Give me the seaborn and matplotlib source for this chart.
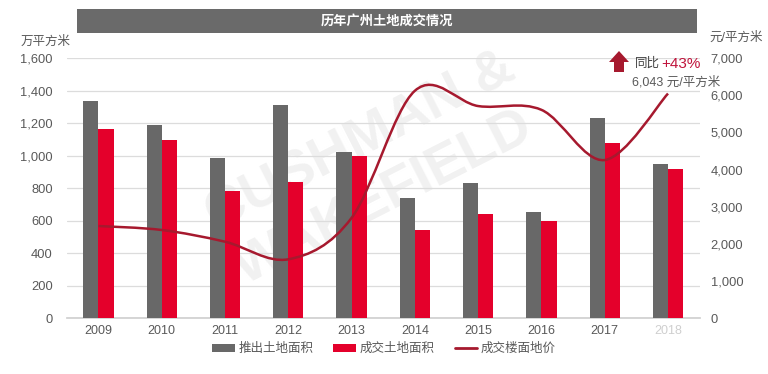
import numpy as np
import pandas as pd
import matplotlib
matplotlib.use('Agg')
import matplotlib.pyplot as plt
import seaborn as sns
from matplotlib.path import Path
from matplotlib.patches import PathPatch, Rectangle, Polygon, Patch
from matplotlib.lines import Line2D
from matplotlib.ticker import FuncFormatter, MultipleLocator

# ---- data ----
years = ['2009', '2010', '2011', '2012', '2013', '2014', '2015', '2016', '2017', '2018']
launched = [1336, 1187, 988, 1309, 1019, 740, 832, 654, 1229, 948]   # 推出土地面积 (万平方米)
sold = [1162, 1095, 783, 838, 999, 544, 640, 599, 1078, 915]         # 成交土地面积 (万平方米)
price = [2481, 2374, 2059, 1586, 2700, 6118, 5707, 5605, 4255, 6043] # 成交楼面地价 (元/平方米)
series_names = ['推出土地面积', '成交土地面积']
line_name = '成交楼面地价'
title = '历年广州土地成交情况'
left_unit = '万平方米'
right_unit = '元/平方米'

GRAY = '#686868'
RED = '#E4002B'
DARKRED = '#A6192E'
TXT = '#595959'

sns.set_theme(style='white')
plt.rcParams['font.family'] = ['Liberation Sans', 'Noto Sans CJK SC', 'DejaVu Sans']

fig = plt.figure(figsize=(7.68, 3.74), dpi=100)
ax = fig.add_axes([0.087, 0.149, 0.824, 0.696])

# faint watermark
fig.text(0.47, 0.62, 'CUSHMAN &', color='#f1f1f1', fontsize=40, fontweight='bold',
         rotation=27, ha='center', va='center', zorder=-1)
fig.text(0.50, 0.47, 'WAKEFIELD', color='#f1f1f1', fontsize=40, fontweight='bold',
         rotation=27, ha='center', va='center', zorder=-1)
ax.patch.set_alpha(0)

df = pd.DataFrame({
    'year': years * 2,
    'value': launched + sold,
    'series': [series_names[0]] * len(years) + [series_names[1]] * len(years),
})
sns.barplot(data=df, x='year', y='value', hue='series', palette=[GRAY, RED],
            width=0.48, saturation=1, ax=ax, legend=False, linewidth=0, zorder=3)

ax.set_xlim(-0.5, len(years) - 0.5)
ax.set_ylim(0, 1600)
ax.yaxis.set_major_locator(MultipleLocator(200))
ax.yaxis.set_major_formatter(FuncFormatter(lambda v, p: f'{int(v):,}'))
ax.yaxis.grid(True, color='#dcdcdc', lw=0.9)
ax.set_axisbelow(True)
for s in ['top', 'left', 'right']:
    ax.spines[s].set_visible(False)
ax.spines['bottom'].set_color('#d0d0d0')
ax.set_xlabel('')
ax.set_ylabel('')
ax.tick_params(axis='y', length=0, pad=10, labelsize=9.3, labelcolor=TXT)
ax.tick_params(axis='x', length=0, pad=5, labelsize=9, labelcolor=TXT)
ax.get_xticklabels()[-1].set_color('#cfcfcf')

# ---- smoothed price line on right axis ----
ax2 = ax.twinx()
ax2.set_ylim(0, 7000)
ax2.yaxis.set_major_locator(MultipleLocator(1000))
ax2.yaxis.set_major_formatter(FuncFormatter(lambda v, p: f'{int(v):,}'))
ax2.tick_params(axis='y', length=0, pad=8, labelsize=9.3, labelcolor=TXT)
for s in ['top', 'left', 'right', 'bottom']:
    ax2.spines[s].set_visible(False)
ax2.grid(False)

xs = np.arange(len(price), dtype=float)
ys = np.array(price, dtype=float)
pts = np.column_stack([xs, ys])
ext = np.vstack([pts[0], pts, pts[-1]])
verts = [tuple(pts[0])]
codes = [Path.MOVETO]
for i in range(len(pts) - 1):
    p0, p1, p2, p3 = ext[i], ext[i + 1], ext[i + 2], ext[i + 3]
    c1 = p1 + (p2 - p0) / 6.0
    c2 = p2 - (p3 - p1) / 6.0
    verts += [tuple(c1), tuple(c2), tuple(p2)]
    codes += [Path.CURVE4, Path.CURVE4, Path.CURVE4]
ax2.add_patch(PathPatch(Path(verts, codes), facecolor='none', edgecolor=DARKRED,
                        lw=1.8, zorder=5))

# ---- title bar ----
fig.patches.append(Rectangle((77 / 768, (374 - 33) / 374), (697 - 77) / 768, 24 / 374,
                             transform=fig.transFigure, facecolor='#6a6a6a',
                             edgecolor='none', zorder=0))
fig.text(387 / 768, (374 - 21) / 374, title, color='white', fontsize=9.5,
         fontweight='bold', ha='center', va='center')

# ---- unit labels ----
fig.text(46 / 768, (374 - 42) / 374, left_unit, color=TXT, fontsize=9,
         ha='center', va='center')
fig.text(736 / 768, (374 - 38) / 374, right_unit, color=TXT, fontsize=9,
         ha='center', va='center')

# ---- annotation ----
def px(x, y):
    return (x / 100.0, (374 - y) / 100.0)

arrow = Polygon([px(619, 51), px(609, 62), px(614, 62), px(614, 72),
                 px(624, 72), px(624, 62), px(629, 62)], closed=True,
                transform=fig.dpi_scale_trans, facecolor=DARKRED, edgecolor='none')
fig.patches.append(arrow)
fig.text(635 / 768, (374 - 64) / 374, '同比', color='#404040', fontsize=9,
         ha='left', va='center')
fig.text(661 / 768, (374 - 64) / 374, '+43%', color='#C0143C', fontsize=11,
         ha='left', va='center')
fig.text(632 / 768, (374 - 82) / 374, '6,043 元/平方米', color=TXT, fontsize=9,
         ha='left', va='center')

# ---- legend ----
handles = [Patch(facecolor=GRAY, edgecolor='none'),
           Patch(facecolor=RED, edgecolor='none'),
           Line2D([0], [0], color=DARKRED, lw=2)]
fig.legend(handles, series_names + [line_name], loc='center', bbox_to_anchor=(0.5, 0.067),
           ncol=3, frameon=False, fontsize=9, handlelength=1.8, handleheight=0.6,
           columnspacing=1.6, handletextpad=0.3, labelcolor=TXT)

fig.savefig('out.png', dpi=100)
